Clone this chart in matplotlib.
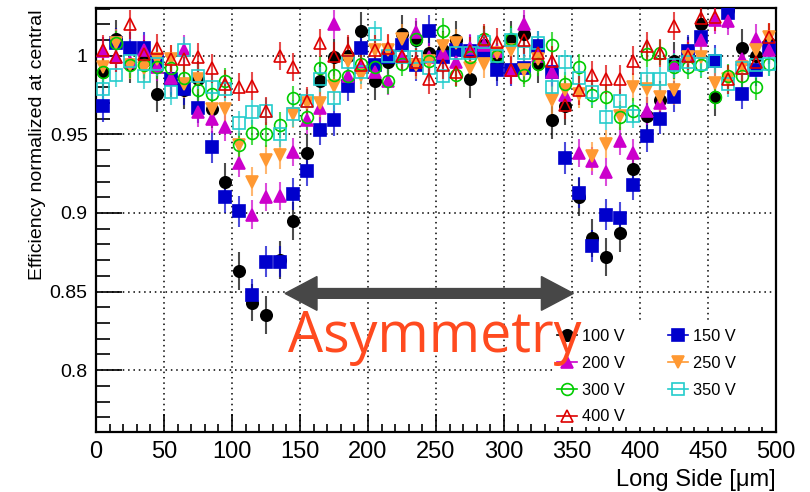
import matplotlib
matplotlib.use("Agg")
import matplotlib.pyplot as plt
from matplotlib.lines import Line2D
from matplotlib.patches import Rectangle
from matplotlib.ticker import MultipleLocator, FixedLocator, FixedFormatter
import numpy as np

plt.rcParams['font.family'] = ['Liberation Sans', 'DejaVu Sans']

# bin centres along the long pixel side [um]
position = np.arange(5, 500, 10)

eff_100V = [0.990, 1.011, 0.995, 0.997, 0.976, 0.986, 0.978, 0.985, 0.966, 0.920,
            0.863, 0.843, 0.835, 0.870, 0.895, 0.938, 0.984, 0.999, 1.000, 1.016,
            0.984, 0.996, 1.014, 1.010, 1.002, 1.004, 1.010, 0.985, 1.007, 0.996,
            1.010, 1.014, 0.995, 0.959, 0.968, 0.910, 0.884, 0.872, 0.887, 0.928,
            0.962, 0.972, 0.997, 1.000, 1.020, 0.974, 1.029, 1.005, 1.000, 1.008]
eff_150V = [0.968, 1.008, 1.005, 1.005, 0.997, 0.985, 0.979, 0.967, 0.942, 0.910,
            0.901, 0.848, 0.869, 0.869, 0.912, 0.927, 0.953, 0.959, 0.981, 1.005,
            0.994, 0.999, 1.007, 0.994, 1.016, 0.999, 1.004, 1.003, 1.003, 0.991,
            0.991, 0.992, 1.006, 0.990, 0.935, 0.913, 0.879, 0.899, 0.897, 0.918,
            0.949, 0.960, 0.974, 1.003, 1.012, 0.997, 1.027, 0.976, 0.991, 1.005]
eff_200V = [1.003, 0.999, 0.996, 1.004, 0.993, 0.986, 1.004, 0.964, 0.960, 0.955,
            0.932, 0.899, 0.910, 0.911, 0.939, 0.959, 0.967, 1.020, 0.987, 0.993,
            0.990, 0.984, 1.000, 1.015, 0.999, 1.002, 0.996, 1.005, 1.007, 1.003,
            0.991, 1.020, 1.000, 0.990, 0.975, 0.938, 0.933, 0.926, 0.946, 0.938,
            0.965, 0.970, 0.995, 1.001, 1.010, 1.023, 1.022, 0.998, 1.011, 1.004]
eff_250V = [0.993, 1.008, 0.994, 0.992, 0.998, 0.998, 0.982, 0.985, 0.966, 0.966,
            0.943, 0.920, 0.934, 0.937, 0.963, 0.970, 0.970, 0.981, 0.997, 0.988,
            1.004, 1.004, 1.011, 0.994, 0.997, 1.006, 1.008, 0.992, 0.995, 1.002,
            1.004, 0.991, 0.998, 0.972, 0.978, 0.976, 0.936, 0.944, 0.962, 0.980,
            0.979, 0.974, 0.978, 0.999, 0.999, 0.983, 0.985, 0.993, 1.004, 1.012]
eff_300V = [0.990, 1.008, 0.994, 0.994, 0.993, 0.992, 0.986, 0.978, 0.976, 0.984,
            0.943, 0.951, 0.950, 0.956, 0.973, 0.961, 0.992, 0.988, 0.987, 0.995,
            0.993, 0.984, 0.995, 1.011, 0.997, 1.016, 0.988, 0.999, 1.011, 1.000,
            1.011, 0.988, 0.995, 1.007, 0.982, 0.993, 0.975, 0.974, 0.961, 0.965,
            1.001, 1.002, 0.993, 0.993, 0.994, 0.974, 0.987, 0.987, 0.980, 0.995]
eff_350V = [0.979, 0.988, 0.997, 0.987, 0.995, 0.977, 1.004, 0.987, 0.980, 0.979,
            0.957, 0.964, 0.965, 0.950, 0.963, 0.971, 0.985, 0.973, 0.996, 0.990,
            1.014, 1.000, 0.999, 0.999, 0.992, 0.987, 1.002, 1.002, 1.009, 1.000,
            1.010, 1.002, 1.008, 0.980, 0.996, 0.986, 0.977, 0.961, 0.971, 0.962,
            0.985, 0.985, 0.994, 0.996, 0.995, 0.997, 0.982, 0.992, 0.994, 0.995]
eff_400V = [1.004, 0.999, 1.020, 1.001, 1.005, 0.998, 0.998, 0.999, 0.992, 0.982,
            0.980, 0.981, 0.965, 1.000, 0.993, 0.971, 1.008, 1.000, 1.004, 0.994,
            1.004, 1.005, 1.000, 0.996, 0.985, 0.994, 0.990, 1.003, 1.011, 1.009,
            0.991, 1.010, 1.002, 0.997, 0.969, 0.978, 0.988, 0.985, 0.985, 0.997,
            1.006, 1.002, 1.019, 1.000, 1.024, 1.025, 0.985, 0.992, 0.996, 1.012]

# statistical uncertainty per bias setting
uncertainty = [0.012, 0.010, 0.009, 0.009, 0.008, 0.008, 0.009]

labels = ["100 V", "150 V", "200 V", "250 V", "300 V", "350 V", "400 V"]
series = [eff_100V, eff_150V, eff_200V, eff_250V, eff_300V, eff_350V, eff_400V]
colors = ["#000000", "#0000cc", "#cc00cc", "#ff9933", "#00cc00", "#22cccc", "#dd0000"]
markers = ["o", "s", "^", "v", "o", "s", "^"]
filled = [True, True, True, True, False, False, False]
msizes = [8.2, 8.5, 8.8, 8.8, 8.5, 8.5, 8.8]

W, H = 810, 492
fig = plt.figure(figsize=(W / 100, H / 100), dpi=100)
ax = fig.add_axes([96 / W, 1 - 432.3 / H, 680 / W, 424 / H])

ax.set_xlim(0, 500)
ax.set_ylim(0.7604, 1.0303)

handles = []
for vals, err, c, m, f, ms, lab in zip(series, uncertainty, colors, markers,
                                         filled, msizes, labels):
    rgba = matplotlib.colors.to_rgba(c, 0.7)
    ax.errorbar(position, vals, yerr=err, fmt="none", ecolor=rgba,
                elinewidth=1.5, capsize=0, zorder=3)
    ax.plot(position, vals, linestyle="none", marker=m, ms=ms,
            mfc=c if f else "none", mec=c, mew=1.2, zorder=4)
    handles.append(Line2D([], [], color=c, lw=1.2, marker=m, ms=ms,
                          mfc=c if f else "none", mec=c, mew=1.2))

# axes styling
ax.set_axisbelow(True)
ax.xaxis.set_major_locator(MultipleLocator(50))
ax.xaxis.set_minor_locator(MultipleLocator(10))
yt = [0.8, 0.85, 0.9, 0.95, 1.0]
ax.yaxis.set_major_locator(FixedLocator(yt))
ax.yaxis.set_major_formatter(FixedFormatter(["0.8", "0.85", "0.9", "0.95", "1"]))
ax.yaxis.set_minor_locator(MultipleLocator(0.01))
ax.tick_params(axis="x", which="major", direction="in", length=13, width=1.2,
               labelsize=17, pad=6, top=False)
ax.tick_params(axis="x", which="minor", direction="in", length=6, width=1.2, top=False)
ax.tick_params(axis="y", which="major", direction="in", length=19, width=1.2,
               labelsize=14, pad=6, right=False)
ax.tick_params(axis="y", which="minor", direction="in", length=10, width=1.2, right=False)
for s in ax.spines.values():
    s.set_linewidth(1.6)
ax.grid(True, which="major", color="black", linestyle=(0, (1, 2.5)), linewidth=1.1)

# legend background and entries
ax.add_patch(Rectangle((0.675, 0.012), 0.323, 0.253, transform=ax.transAxes,
                       facecolor="white", edgecolor="none", zorder=2.5))
order = [0, 2, 4, 6, 1, 3, 5]
leg = ax.legend([handles[i] for i in order], [labels[i] for i in order], ncol=2,
                loc="upper left", bbox_to_anchor=((557 - 96) / 680, 1 - (329 - 8.3) / 424),
                frameon=False, fontsize=11.8, handlelength=1.2, handletextpad=0.35,
                columnspacing=2.6, labelspacing=0.72, borderpad=0, borderaxespad=0)
leg.set_zorder(6)

# annotation: double-headed arrow and label
arrow_y = 0.8488
mid = 245
for end in (139, 351):
    ax.arrow(mid, arrow_y, end - mid, 0, width=0.0062, head_width=0.0215,
             head_length=23.5, length_includes_head=True, color="#474747",
             zorder=7)
ax.text(141, 0.8115, "Asymmetry", fontsize=40, color="#ff4a1f", family="Open Sans",
        ha="left", va="baseline", zorder=8)

fig.text(38 / W, 1 - 10 / H, "Efficiency normalized at central", rotation=90,
         ha="center", va="top", fontsize=14)
fig.text(776 / W, 1 - 486 / H, "Long Side [\u03bcm]", ha="right", va="baseline",
         fontsize=17)

fig.savefig("out.png", dpi=100)
